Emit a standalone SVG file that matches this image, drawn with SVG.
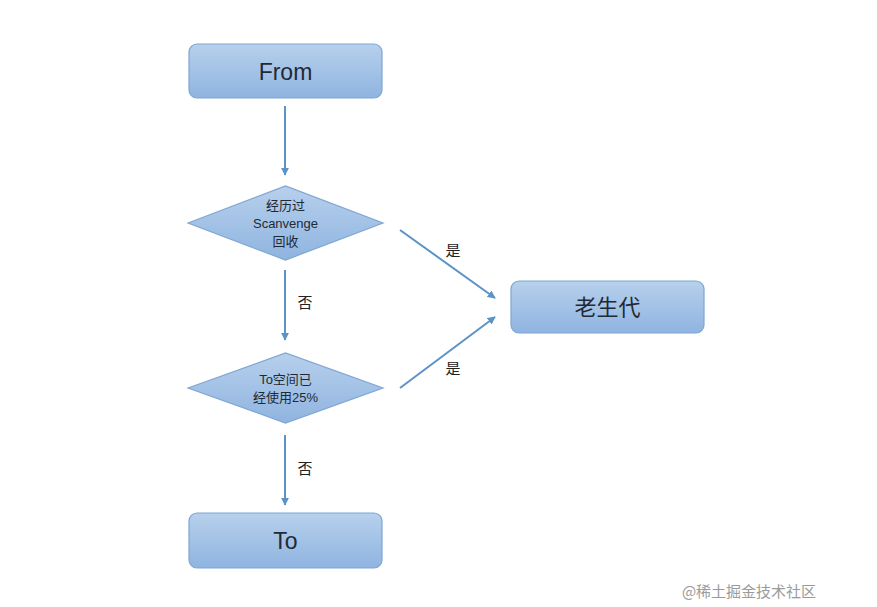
<svg xmlns="http://www.w3.org/2000/svg" width="877" height="607" viewBox="0 0 877 607">
<defs>
<linearGradient id="g" x1="0" y1="0" x2="0" y2="1"><stop offset="0" stop-color="#b7d0ec"/><stop offset="1" stop-color="#8fb4e0"/></linearGradient>
<marker id="a" viewBox="0 0 10 10" refX="9" refY="5" markerWidth="8" markerHeight="8" orient="auto" markerUnits="userSpaceOnUse"><path d="M0,0 L10,5 L0,10 z" fill="#5b93c7"/></marker>
<style>
.n{fill:url(#g);stroke:#7ea6d3;stroke-width:1.2}
.t{font-family:"Liberation Sans","Noto Sans CJK SC",sans-serif;fill:#1f2a36;text-anchor:middle}
.c{stroke:#5b93c7;stroke-width:2;fill:none;marker-end:url(#a)}
.l{font-family:"Noto Sans CJK SC",sans-serif;font-size:15px;fill:#222;text-anchor:middle}
</style>
</defs>
<rect width="877" height="607" fill="#fff"/>
<g id="from"><rect class="n" x="189" y="44" width="193" height="54" rx="8"/><text class="t" x="285.5" y="80" font-size="23">From</text></g>
<g id="d1"><polygon class="n" points="188,223 285.5,186 383,223 285.5,260"/><text class="t" x="285.5" y="210" font-size="13">经历过</text><text class="t" x="285.5" y="228" font-size="13">Scanvenge</text><text class="t" x="285.5" y="246" font-size="13">回收</text></g>
<g id="d2"><polygon class="n" points="188,388 285.5,353 383,388 285.5,423"/><text class="t" x="285.5" y="384" font-size="13">To空间已</text><text class="t" x="285.5" y="402" font-size="13">经使用25%</text></g>
<g id="to"><rect class="n" x="189" y="513" width="193" height="55" rx="8"/><text class="t" x="285.5" y="549" font-size="23">To</text></g>
<g id="old"><rect class="n" x="511" y="281" width="193" height="52" rx="8"/><text class="t" x="607.5" y="315" font-size="22">老生代</text></g>
<g id="connectors">
<line class="c" x1="285" y1="106" x2="285" y2="175"/>
<line class="c" x1="285" y1="270" x2="285" y2="340"/>
<line class="c" x1="285" y1="435" x2="285" y2="505"/>
<line class="c" x1="400" y1="230" x2="495" y2="298"/>
<line class="c" x1="400" y1="388" x2="495" y2="317"/>
<text class="l" x="305" y="308">否</text>
<text class="l" x="305" y="474">否</text>
<text class="l" x="453" y="256">是</text>
<text class="l" x="453" y="374">是</text>
</g>
<text x="749" y="597" font-family="Noto Sans CJK SC,sans-serif" font-size="15" fill="#9a9a9a" text-anchor="middle">@稀土掘金技术社区</text>
</svg>
